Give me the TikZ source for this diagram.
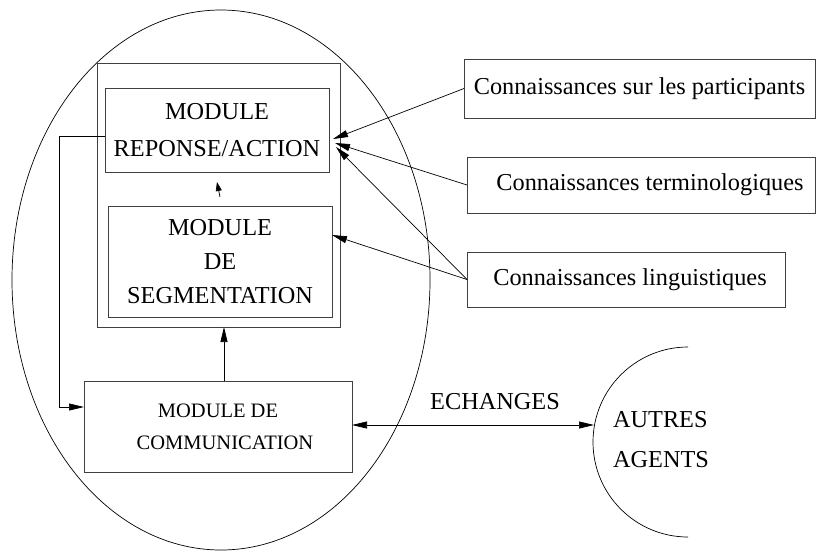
\documentclass[tikz,border=0pt]{standalone}
\usepackage{fontspec}
\setmainfont{Liberation Serif}
\usetikzlibrary{arrows.meta,shapes.geometric}
\begin{document}
\begin{tikzpicture}[x=1pt,y=-1pt,
  every node/.style={inner sep=0pt,outer sep=0pt},
  box/.style={draw=black!75,line width=0.9pt,rectangle,align=center},
  big/.style={font=\fontsize{24.3}{36}\selectfont},
  small/.style={font=\fontsize{20.5}{32}\selectfont},
  conn/.style={line width=0.7pt,-{Triangle[length=15pt,width=7pt]}},
  sconn/.style={line width=0.7pt,-{Triangle[length=9pt,width=6pt]}},
  dconn/.style={line width=0.7pt,{Triangle[length=15pt,width=7pt]}-{Triangle[length=15pt,width=7pt]}}
]
\useasboundingbox (0,0) rectangle (816,550);
% agent ellipse
\node[draw,ellipse,line width=0.7pt,minimum width=418pt,minimum height=540pt] (agent) at (221,280) {};
% outer box
\node[box,minimum width=243pt,minimum height=264pt] (outer) at (218.5,195) {};
\node[box,big,minimum width=224pt,minimum height=84pt,font=\fontsize{24.3}{37}\selectfont] (rep) at (217,130) {MODULE\\REPONSE/ACTION};
\node[box,big,minimum width=224pt,minimum height=111pt,font=\fontsize{24.3}{34}\selectfont] (seg) at (220,261.5) {MODULE\\DE\\SEGMENTATION};
\node[box,small,minimum width=268pt,minimum height=91pt] (comm) at (218,426.5) {MODULE DE\\\hspace*{14pt}COMMUNICATION};
% knowledge boxes
\node[box,big,minimum width=351pt,minimum height=59pt] (k1) at (639.5,88.5) {Connaissances sur les participants};
\node[box,big,minimum width=348pt,minimum height=56pt] (k2) at (641,185) {\hspace*{18pt}Connaissances terminologiques};
\node[box,big,minimum width=318pt,minimum height=55pt] (k3) at (626,279.5) {\hspace*{8pt}Connaissances linguistiques};
% other agents
\draw[line width=0.7pt] (688,347) arc[start angle=-90,end angle=-270,radius=95];
\coordinate (oa) at (594,425);
\node[big,align=left,font=\fontsize{24.3}{40}\selectfont] (autres) at (661,440) {AUTRES\\AGENTS};
\node[big] (ech) at (495,402) {ECHANGES};
% connectors
\coordinate (t1) at (333,139);
\coordinate (t2) at (335,143);
\coordinate (t3) at (336,147);
\draw[conn] (k1.west) -- (t1);
\draw[conn] (k2.west) -- (t2);
\draw[conn] (k3.west) -- (t3);
\draw[conn] (k3.west) -- ([yshift=26.5pt]seg.east);
\draw[sconn] ([yshift=9pt]seg.north) -- ([yshift=-10pt]rep.south);
\draw[conn] (comm.north -| 224,0) -- (outer.south -| 224,0);
\coordinate (lc) at (59,136);
\draw[conn] (rep.west |- lc) -- (lc) -- (59,407) -- (comm.west |- 0,407);
\draw[dconn] (comm.east |- 0,425) -- (oa);
\end{tikzpicture}
\end{document}
